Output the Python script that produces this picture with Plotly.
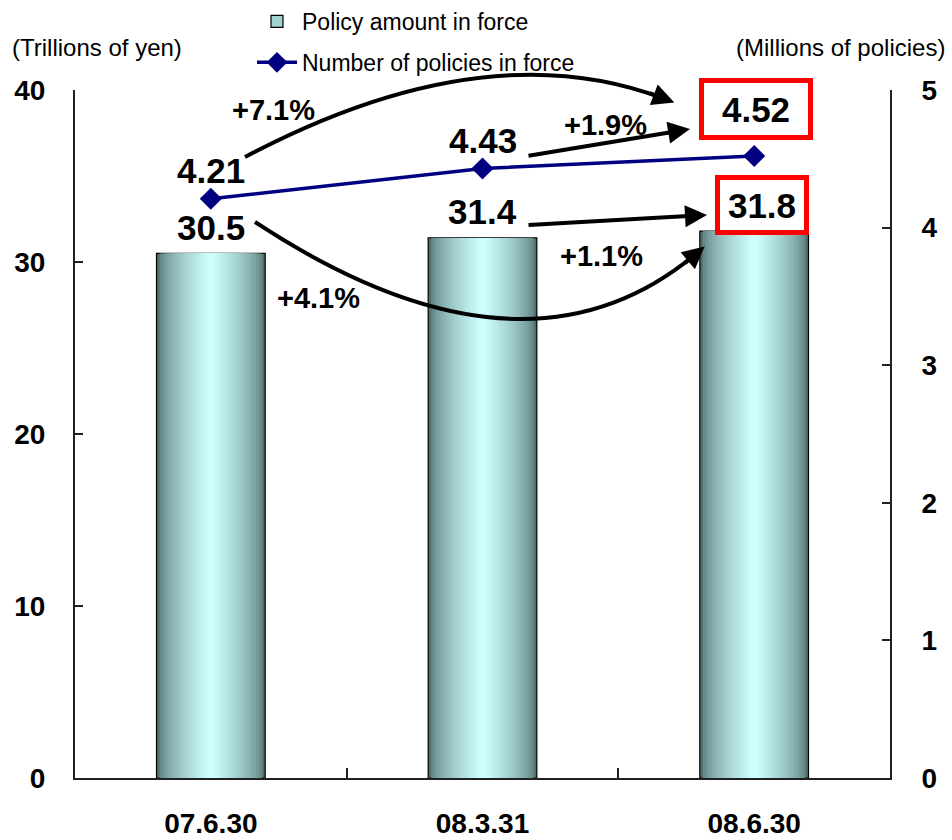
import plotly.graph_objects as go

# ---- data ---------------------------------------------------------------
dates = ["07.6.30", "08.3.31", "08.6.30"]
amount = [30.5, 31.4, 31.8]            # policy amount in force, trillions of yen
policies = [4.21, 4.43, 4.52]          # number of policies in force, millions
amount_growth = ["+4.1%", "+1.1%"]     # 07.6.30 -> 08.6.30, 08.3.31 -> 08.6.30
policy_growth = ["+7.1%", "+1.9%"]     # 07.6.30 -> 08.6.30, 08.3.31 -> 08.6.30

# ---- page geometry ------------------------------------------------------
W, H = 952, 840
L, R, T, B = 75, 62, 90, 62
PW, PH = W - L - R, H - T - B
FONT = "Liberation Sans, Arial, sans-serif"


def px(x):
    return (x - L) / PW


def py(y):
    return (H - B - y) / PH


fig = go.Figure()

# ---- cylinder-style bars: stacked overlays from dark edge to light core ---
DARK = (80, 112, 112)
LIGHT = (206, 255, 255)
N = 18
BAR_W = 0.4
for k in range(N):
    s = (k / (N - 1)) ** 0.6
    col = tuple(round(DARK[i] + (LIGHT[i] - DARK[i]) * s) for i in range(3))
    fig.add_trace(go.Bar(
        x=dates, y=amount,
        width=[BAR_W * (1 - k / N)] * len(dates),
        marker=dict(color="rgb(%d,%d,%d)" % col,
                    line=dict(color="black", width=1.2 if k == 0 else 0)),
        showlegend=False, hoverinfo="skip",
    ))

# legend swatch for the bars
fig.add_trace(go.Bar(
    x=dates, y=[None] * len(dates), name="Policy amount in force",
    legendgroup="amount",
    marker=dict(color="rgb(160,210,210)", line=dict(color="black", width=1.2)),
))

fig.add_trace(go.Scatter(
    x=dates, y=policies, yaxis="y2", mode="lines+markers",
    name="Number of policies in force", legendgroup="policies",
    line=dict(color="#000080", width=3.5),
    marker=dict(symbol="diamond", size=17, color="#000080"),
))

# ---- value labels -------------------------------------------------------
ann = []
label_font = dict(family=FONT, size=35, color="black", weight="bold")
for i, (d, v) in enumerate(zip(dates, amount)):
    a = dict(x=d, y=v, xref="x", yref="y", text=f"{v:.1f}", showarrow=False,
             font=label_font, xanchor="center", yanchor="middle", yshift=26)
    if i == len(dates) - 1:
        a.update(bordercolor="#ff0000", borderwidth=5, bgcolor="white",
                 width=80, height=46, borderpad=2, xshift=8)
    ann.append(a)
for i, (d, v) in enumerate(zip(dates, policies)):
    a = dict(x=d, y=v, xref="x", yref="y2", text=f"{v:.2f}", showarrow=False,
             font=label_font, xanchor="center", yanchor="middle", yshift=28)
    if i == len(dates) - 1:
        a.update(bordercolor="#ff0000", borderwidth=5, bgcolor="white",
                 width=100, height=48, borderpad=2, yshift=47, xshift=2)
    ann.append(a)

# ---- growth arrows ------------------------------------------------------
shapes = []
ARROW = dict(showarrow=True, arrowhead=2, arrowsize=1.1, arrowwidth=4,
             arrowcolor="black", text="", xref="paper", yref="paper",
             axref="pixel", ayref="pixel")


def curved_arrow(p0, c, p2):
    shapes.append(dict(
        type="path", xref="paper", yref="paper",
        path=f"M {px(p0[0])},{py(p0[1])} Q {px(c[0])},{py(c[1])} {px(p2[0])},{py(p2[1])}",
        line=dict(color="black", width=4),
    ))
    dx, dy = p2[0] - c[0], p2[1] - c[1]
    n = (dx * dx + dy * dy) ** 0.5
    ux, uy = dx / n, dy / n
    tip = (p2[0] + 10 * ux, p2[1] + 10 * uy)
    ann.append(dict(ARROW, x=px(tip[0]), y=py(tip[1]), ax=-28 * ux, ay=-28 * uy))


def straight_arrow(tail, tip):
    ann.append(dict(ARROW, x=px(tip[0]), y=py(tip[1]),
                    ax=tail[0] - tip[0], ay=tail[1] - tip[1]))


curved_arrow((245, 157), (485, 30), (665, 99))
straight_arrow((527, 156), (690, 129))
straight_arrow((527, 225), (707, 215))
curved_arrow((255, 222), (524, 399), (697, 253))

pct_font = dict(family=FONT, size=29, color="black", weight="bold")
for txt, (x, y) in zip(policy_growth, [(273, 110), (605, 125)]):
    ann.append(dict(x=px(x), y=py(y), xref="paper", yref="paper", text=txt,
                    showarrow=False, font=pct_font,
                    xanchor="center", yanchor="middle"))
for txt, (x, y) in zip(amount_growth, [(318, 298), (601, 256)]):
    ann.append(dict(x=px(x), y=py(y), xref="paper", yref="paper", text=txt,
                    showarrow=False, font=pct_font,
                    xanchor="center", yanchor="middle"))

# ---- unit captions ------------------------------------------------------
unit_font = dict(family=FONT, size=24, color="black")
ann.append(dict(x=px(10), y=py(48), xref="paper", yref="paper",
                text="(Trillions of yen)", showarrow=False, font=unit_font,
                xanchor="left", yanchor="middle"))
ann.append(dict(x=px(947), y=py(48), xref="paper", yref="paper",
                text="(Millions of policies)", showarrow=False, font=unit_font,
                xanchor="right", yanchor="middle"))

tick_font = dict(family=FONT, size=28, color="black", weight="bold")
axis_common = dict(showgrid=False, zeroline=False, showline=True,
                   linecolor="#202020", linewidth=2, ticks="inside",
                   ticklen=8, tickwidth=1.5, tickcolor="#202020",
                   tickfont=tick_font, automargin=False)

fig.update_layout(
    width=W, height=H,
    margin=dict(l=L, r=R, t=T, b=B, autoexpand=False),
    paper_bgcolor="white", plot_bgcolor="white",
    barmode="overlay",
    font=dict(family=FONT, color="black"),
    xaxis=dict(axis_common, type="category", range=[-0.5, 2.5],
               tickson="boundaries", ticklen=10, ticklabelstandoff=19),
    yaxis=dict(axis_common, range=[0, 40], dtick=10, ticklabelstandoff=22),
    yaxis2=dict(axis_common, range=[0, 5], dtick=1, overlaying="y",
                side="right", ticklabelstandoff=24),
    legend=dict(x=px(252), y=py(0), xanchor="left", yanchor="top",
                font=dict(family=FONT, size=23, color="black"),
                bgcolor="rgba(0,0,0,0)", tracegroupgap=8, itemwidth=40),
    annotations=ann,
    shapes=shapes,
)

fig.write_html("out.html")
